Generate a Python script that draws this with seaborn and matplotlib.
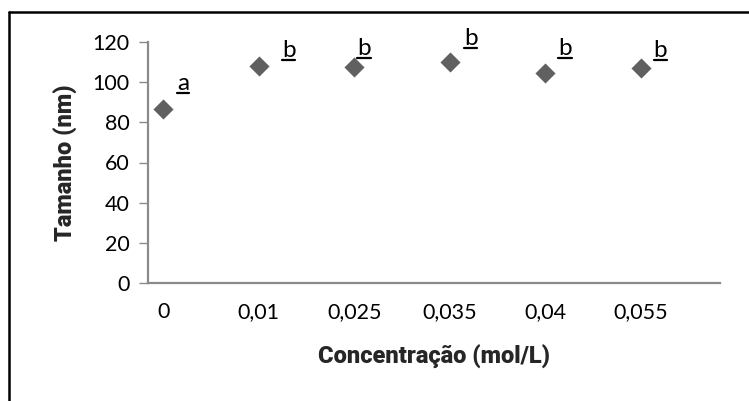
import matplotlib
matplotlib.use("Agg")
import matplotlib.pyplot as plt
import seaborn as sns
import pandas as pd
from matplotlib.lines import Line2D

categories = ["0", "0,01", "0,025", "0,035", "0,04", "0,055"]
tamanho = [86.5, 108.2, 107.6, 110.2, 104.7, 107.2]
letters = ["a", "b", "b", "b", "b", "b"]
# letter label offsets from marker centre (pixels: right, up to baseline)
label_dx = [14, 23, 3, 14, 13, 13]
label_dy = [19, 9, 12, 17, 18, 11]

sns.set_theme(style="white")
plt.rcParams['font.family'] = ['Lato', 'DejaVu Sans']

df = pd.DataFrame({"conc": categories, "tam": tamanho})

fig = plt.figure(figsize=(7.49, 4.01), dpi=100)
ax = fig.add_axes([148/749, 1-283/401, (720-148)/749, (283-42)/401])

sns.scatterplot(data=df, x="conc", y="tam", marker="D", s=105, color="#606060",
                edgecolor="#606060", linewidth=0, ax=ax, zorder=3)

ax.set_ylim(0, 120)
ax.set_yticks(range(0, 121, 20))
ax.set_xlim(-0.16, 5.83)

for s in ["top", "right"]:
    ax.spines[s].set_visible(False)
for s in ["left", "bottom"]:
    ax.spines[s].set_color("#8a8a8a")
    ax.spines[s].set_linewidth(1.6)

ax.tick_params(axis="y", direction="out", length=6.5, width=1.0, color="#8a8a8a",
               labelsize=15.5, pad=7, labelcolor="black", left=True)
ax.tick_params(axis="x", length=0, labelsize=15.5, pad=14, labelcolor="black")

label_font = ['Roboto', 'DejaVu Sans']
ax.set_xlabel("Concentração (mol/L)", fontsize=17, fontweight="black",
              family=label_font, labelpad=16)
ax.set_ylabel("Tamanho (nm)", fontsize=17, fontweight="black",
              family=label_font, labelpad=10)

fig.canvas.draw()
renderer = fig.canvas.get_renderer()
for i, (lt, v) in enumerate(zip(letters, tamanho)):
    t = ax.annotate(lt, xy=(i, v), xytext=(label_dx[i], label_dy[i]),
                    textcoords="offset pixels", fontsize=17.5, ha="left",
                    va="baseline", color="black")
    px, py = ax.transData.transform((i, v))
    bb = t.get_window_extent(renderer)
    yline = py + label_dy[i] - 3
    fig.add_artist(Line2D([bb.x0, bb.x1], [yline, yline], transform=None,
                          color="black", lw=1.6))

# figure border (top and left)
fig.add_artist(Line2D([9/749, 9/749], [0, 1-12/401], transform=fig.transFigure,
                      color="black", lw=1.8))
fig.add_artist(Line2D([9/749, 1], [1-12/401, 1-12/401], transform=fig.transFigure,
                      color="black", lw=1.8))

fig.savefig("out.png", dpi=100)
